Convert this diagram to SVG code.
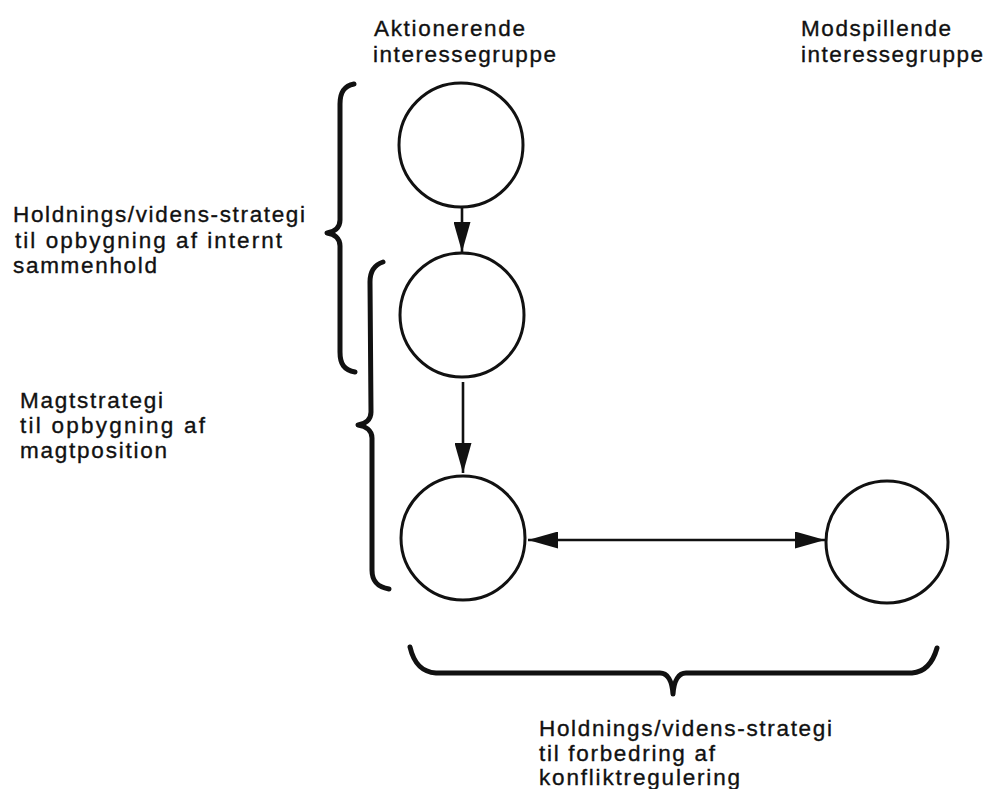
<svg xmlns="http://www.w3.org/2000/svg" width="986" height="789" viewBox="0 0 986 789">
  <style>
    .lbl { font-family: "Liberation Sans", Arial, sans-serif; font-size: 22.5px; fill: #111; stroke: #111; stroke-width: 0.35; }
    .node { fill: none; stroke: #111; stroke-width: 3; }
    .edge { fill: none; stroke: #111; stroke-width: 2.6; }
    .brace { fill: none; stroke: #111; stroke-width: 5; stroke-linecap: round; stroke-linejoin: round; }
  </style>
  <defs>
    <marker id="ah" markerUnits="userSpaceOnUse" markerWidth="31" markerHeight="17" refX="30" refY="8.5" orient="auto-start-reverse">
      <path d="M0,0 L30,8.5 L0,17 z" fill="#111"/>
    </marker>
  </defs>
  <rect width="986" height="789" fill="#fff"/>

  <g id="labels-top">
    <text class="lbl" x="374" y="36" textLength="151" lengthAdjust="spacing">Aktionerende</text>
    <text class="lbl" x="373" y="62" textLength="183" lengthAdjust="spacing">interessegruppe</text>
    <text class="lbl" x="801" y="36" textLength="150" lengthAdjust="spacing">Modspillende</text>
    <text class="lbl" x="801" y="62" textLength="182" lengthAdjust="spacing">interessegruppe</text>
  </g>

  <g id="node1"><circle class="node" cx="461" cy="145" r="62"/></g>
  <g id="node2"><circle class="node" cx="462" cy="315" r="62"/></g>
  <g id="node3"><circle class="node" cx="463" cy="538" r="62"/></g>
  <g id="node4"><circle class="node" cx="887" cy="542" r="61"/></g>

  <g id="connectors">
    <line class="edge" x1="462" y1="207" x2="462" y2="252" marker-end="url(#ah)"/>
    <line class="edge" x1="463" y1="382" x2="463" y2="473" marker-end="url(#ah)"/>
    <line class="edge" x1="528" y1="540" x2="825" y2="540" marker-start="url(#ah)" marker-end="url(#ah)"/>
  </g>

  <g id="brace-internal">
    <path class="brace" d="M354,84 C344,86 340,92 340,104 L340,220 C340,228 334,232 327,233 C334,234 340,238 340,246 L340,352 C340,364 344,370 355,372"/>
    <text class="lbl" x="13" y="222" textLength="292" lengthAdjust="spacing">Holdnings/videns-strategi</text>
    <text class="lbl" x="15" y="248" textLength="267" lengthAdjust="spacing">til opbygning af internt</text>
    <text class="lbl" x="13" y="273" textLength="144" lengthAdjust="spacing">sammenhold</text>
  </g>

  <g id="brace-magt">
    <path class="brace" d="M383,262 C374,265 370,272 370,282 L371,412 C371,420 365,424 358,425 C365,426 372,430 372,438 L372,570 C372,582 378,587 389,589"/>
    <text class="lbl" x="20" y="408" textLength="143" lengthAdjust="spacing">Magtstrategi</text>
    <text class="lbl" x="20" y="433" textLength="185" lengthAdjust="spacing">til opbygning af</text>
    <text class="lbl" x="20" y="458" textLength="147" lengthAdjust="spacing">magtposition</text>
  </g>

  <g id="brace-konflikt">
    <path class="brace" d="M410,647 C414,664 422,672 436,673 L660,673 C667,673 672,680 673,694 C674,680 679,673 686,673 L912,673 C926,672 933,662 937,648"/>
    <text class="lbl" x="539" y="736" textLength="293" lengthAdjust="spacing">Holdnings/videns-strategi</text>
    <text class="lbl" x="539" y="761" textLength="176" lengthAdjust="spacing">til forbedring af</text>
    <text class="lbl" x="539" y="785" textLength="201" lengthAdjust="spacing">konfliktregulering</text>
  </g>
</svg>
